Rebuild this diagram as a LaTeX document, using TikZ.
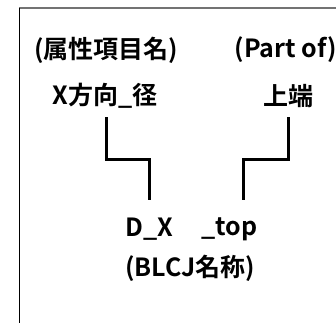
\documentclass[tikz,border=0pt]{standalone}
\usepackage{fontspec}
\setmainfont{Noto Sans CJK JP}[BoldFont={* Bold}]
\begin{document}
\begin{tikzpicture}[x=1pt,y=-1pt,
  lbl/.style={inner sep=0pt,font=\fontsize{25}{29}\selectfont\bfseries},
  conn/.style={line width=3pt,black,line cap=butt,line join=miter}]
\useasboundingbox (0,0) rectangle (336,323);
\fill[white] (0,0) rectangle (336,323);
\draw[line width=1.3pt,black!55] (19,8) -- (336,8);
\draw[line width=1pt,black] (19.5,8) -- (19.5,323);
\node[lbl] (attr) at (106,50) {(属性項目名)};
\node[lbl] (part) at (286,50) {(Part of)};
\node[lbl] (xdir) at (105,96) {X方向\_径};
\node[lbl] (top) at (288,96) {上端};
\node[lbl,anchor=west] (dx) at (125,229) {D\_X};
\node[lbl,anchor=west] (ptop) at (201,229) {\_top};
\node[lbl] (blcj) at (190,268) {(BLCJ名称)};
\coordinate (l1) at (106.5,117);
\coordinate (l2) at (106.5,159);
\coordinate (l3) at (149,159);
\coordinate (l4) at (149,200);
\coordinate (r1) at (288,117);
\coordinate (r2) at (288,159);
\coordinate (r3) at (243,159);
\coordinate (r4) at (243,200);
\draw[conn] (l1) -- (l2) -- (l3) -- (l4);
\draw[conn] (r1) -- (r2) -- (r3) -- (r4);
\end{tikzpicture}
\end{document}
